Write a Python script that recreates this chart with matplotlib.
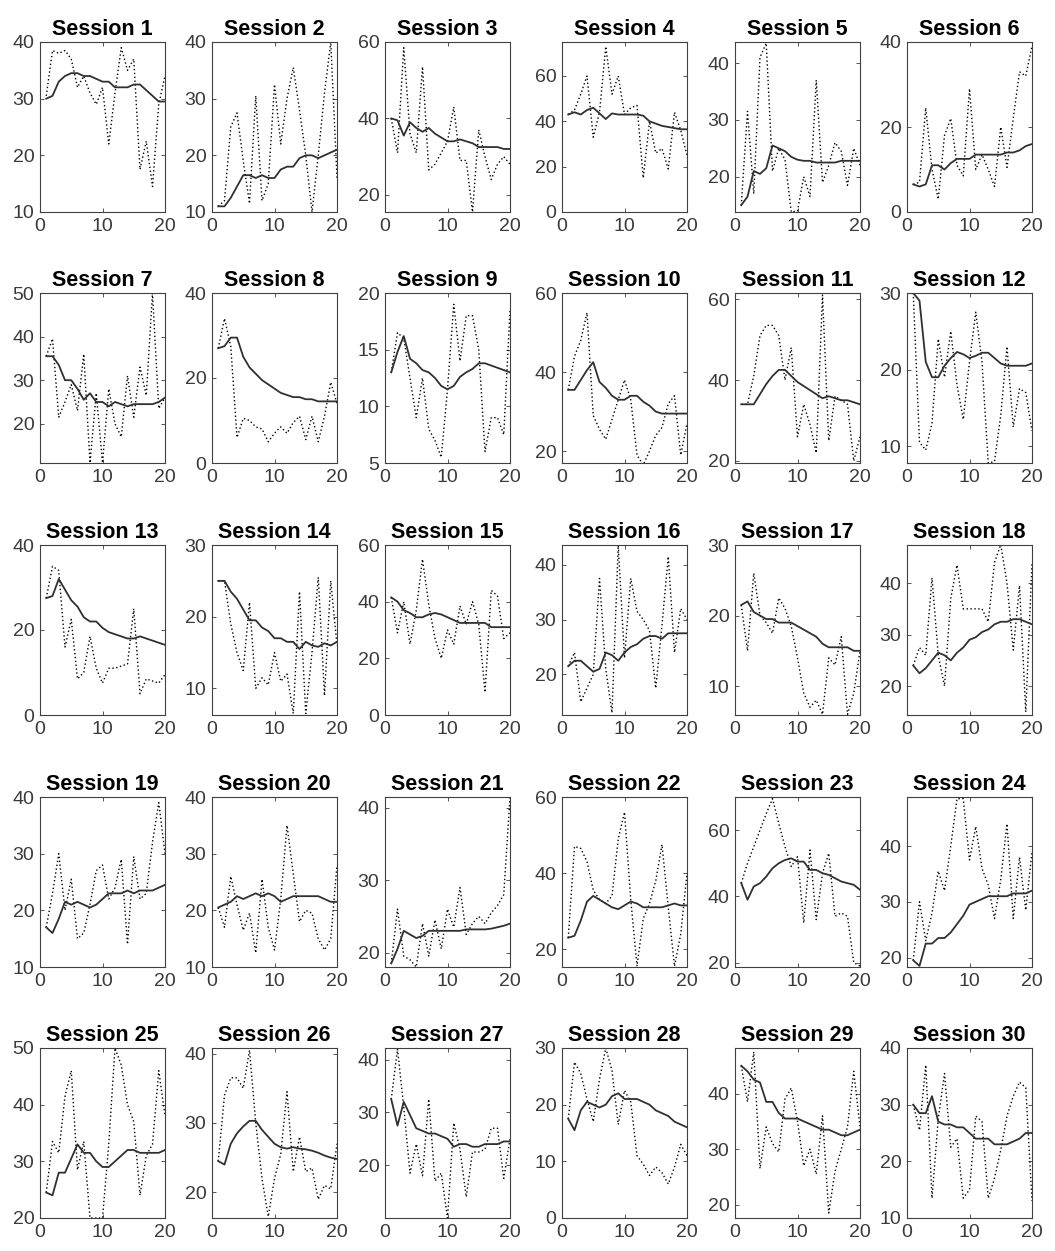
import matplotlib
matplotlib.use("Agg")
import matplotlib.pyplot as plt
import numpy as np

plt.rcParams['font.family'] = ['Liberation Sans', 'DejaVu Sans']

x_vals = list(range(1, 21))
session_titles = [f"Session {i}" for i in range(1, 31)]
x_ticks = [0, 10, 20]

# dotted (raw) and solid (smoothed) series per session
raw_1 = [30.5, 38.5, 38, 38.5, 37, 32, 34, 31, 29, 32, 22, 31, 39, 35, 37, 17.5, 22.5, 14.5, 29, 34]
trend_1 = [30, 30.5, 33, 34, 34.5, 34.5, 34, 34, 33.5, 33, 33, 32, 32, 32, 32.5, 32.5, 31.5, 30.5, 29.5, 29.5]
raw_2 = [11, 12, 25, 27.5, 19, 11.5, 30.5, 12, 15, 32.5, 22, 30, 35.5, 28, 20, 10, 20, 31, 40, 16]
trend_2 = [11, 11, 12.5, 14.5, 16.5, 16.5, 16, 16.5, 16, 16, 17.5, 18, 18, 19.5, 20, 20, 19.5, 20, 20.5, 21]
raw_3 = [40, 31, 58.5, 36, 31, 53.5, 26.5, 28, 31, 34, 43, 29, 29, 15.5, 37, 30, 24, 28, 30, 28]
trend_3 = [40, 39.5, 35.5, 39, 37.5, 36.5, 37.5, 36, 35, 34, 34, 34.5, 34, 33.5, 32.5, 32.5, 32.5, 32.5, 32, 32]
raw_4 = [43, 45, 52, 60, 33, 44, 73, 52, 60, 43, 46, 47, 15, 40, 26, 28, 19, 44, 36, 25]
trend_4 = [43, 44, 43, 45, 46, 43.5, 41, 43.5, 43, 43, 43, 43, 42.5, 40, 39, 38, 37.5, 37, 36.5, 36.5]
raw_5 = [15, 31.5, 17, 41, 43.5, 21, 25, 23, 13.8, 14, 20, 16.5, 37, 19, 22, 26, 24.5, 18.5, 25, 22]
trend_5 = [15, 16.5, 21, 20.5, 21.5, 25.5, 25, 24.5, 23.5, 23, 22.8, 22.8, 22.5, 22.5, 22.5, 22.5, 22.8, 22.8, 22.8, 22.8]
raw_6 = [6.5, 7, 24.5, 10, 3, 18, 22, 11, 8.5, 29, 10, 13.5, 10, 6, 20, 10.5, 22, 33, 32, 39]
trend_6 = [6.5, 6, 6.5, 11, 11, 10, 11.5, 12.5, 12.5, 12.5, 13.5, 13.5, 13.5, 13.5, 13.5, 14, 14, 14.5, 15.5, 16]
raw_7 = [35.5, 39.5, 21.5, 25, 29, 23, 36, 11, 27, 11, 28, 20, 17, 31, 21.5, 33, 26.5, 50, 23.5, 26]
trend_7 = [35.5, 35.5, 33.5, 30, 30, 28, 25.5, 27, 25, 25, 24, 25, 24.5, 24, 24.5, 24.5, 24.5, 24.5, 25, 26]
raw_8 = [27, 34, 27.5, 6, 10.5, 10, 8.5, 8, 5, 7, 8.5, 7, 9.5, 11, 5.5, 11, 5, 11, 19, 14]
trend_8 = [27, 27.5, 29.5, 29.5, 25, 22.5, 21, 19.5, 18.5, 17.5, 16.5, 16, 15.5, 15.5, 15, 15, 14.5, 14.5, 14.5, 14.5]
raw_9 = [13, 16.5, 16, 12.5, 9, 12.5, 8, 7, 5.5, 11.5, 19, 14, 18, 18, 15, 6, 9, 9, 7.5, 18.5]
trend_9 = [13, 14.8, 16.2, 14.2, 13.8, 13.2, 13, 12.5, 11.8, 11.5, 11.8, 12.6, 13, 13.3, 13.8, 13.8, 13.6, 13.4, 13.2, 13]
raw_10 = [35.5, 44, 48, 55, 29, 25.5, 23, 28, 33, 38, 33, 19, 16.5, 20, 24, 26, 32, 34, 19, 27]
trend_10 = [35.5, 35.5, 38, 40.5, 42.5, 37.5, 36, 34, 33, 33, 34, 34, 32.5, 31.5, 30, 29.5, 29.5, 29.5, 29.5, 29.5]
raw_11 = [34, 34, 41, 51, 53.5, 53.5, 51, 40, 48, 26, 34, 29, 22, 61, 25, 36, 35, 34, 20, 26]
trend_11 = [34, 34, 34, 36.5, 39, 41, 42.5, 42.5, 41, 39.5, 38.5, 37.5, 36.5, 35.5, 36, 35.5, 35, 35, 34.5, 34]
raw_12 = [30, 10.5, 9.5, 13, 24, 19, 25, 18, 13.5, 21, 27.5, 21, 7.8, 8, 14, 23, 12.5, 17.5, 17, 12]
trend_12 = [30, 29, 21, 19, 19, 20.5, 21.5, 22.3, 22, 21.5, 21.8, 22.2, 22.2, 21.5, 20.8, 20.5, 20.5, 20.5, 20.5, 20.8]
raw_13 = [27.5, 35, 34, 16, 22.5, 8.5, 10, 18.5, 11, 7.5, 11, 11, 11.5, 12, 25, 5, 8.5, 8, 7.5, 9.5]
trend_13 = [27.5, 28, 32, 29.5, 27, 25.5, 23, 22, 22, 20.5, 19.5, 19, 18.5, 18, 18, 18.5, 18, 17.5, 17, 16.5]
raw_14 = [25, 25, 19, 15, 12.5, 22, 10, 11.5, 10.5, 15, 11, 12, 6.5, 23.5, 6.5, 15, 25.5, 9, 25, 16]
trend_14 = [25, 25, 23.5, 22.5, 21, 19.5, 19.5, 18.5, 18, 17, 17, 16.5, 16.5, 15.5, 16.5, 16, 15.8, 16.3, 16, 16.5]
raw_15 = [41.5, 29, 40, 25, 37, 55, 39, 27, 20, 30, 25, 38.5, 32, 40, 32, 8, 44, 42, 27, 29]
trend_15 = [41.5, 40, 37, 36, 34.5, 34.5, 35.5, 36, 35.5, 34.5, 33.5, 32.5, 32.5, 32.5, 32.5, 32.5, 31, 31, 31, 31]
raw_16 = [21.5, 24, 15, 17.5, 20, 37.5, 21, 13, 43.5, 23, 37.5, 31.5, 30, 28, 17.5, 29, 41.5, 24, 32, 30]
trend_16 = [21.5, 22.5, 22.5, 21.5, 20.5, 21, 24, 23.5, 22.5, 24, 25, 25.5, 26.5, 27, 27, 26.5, 27.5, 27.5, 27.5, 27.5]
raw_17 = [21.5, 15, 26, 20, 19, 17.5, 22.5, 21, 18.5, 14, 9, 7, 8, 6, 14, 13, 17, 6, 9, 15]
trend_17 = [21.5, 22, 20.5, 20, 19.5, 19.5, 19, 19, 19, 18.5, 18, 17.5, 17, 16, 15.5, 15.5, 15.5, 15.5, 15, 15]
raw_18 = [24, 27.5, 26, 41, 26, 20, 37, 43.5, 35, 35, 35, 35, 32.5, 44, 47.5, 40, 27, 39.5, 15, 44]
trend_18 = [24, 22.5, 23.5, 25, 26.5, 26, 25, 26.5, 27.5, 29, 29.5, 30.5, 31, 32, 32.5, 32.5, 33, 33, 32.5, 32]
raw_19 = [17, 23, 30, 20, 25.5, 15, 16, 21, 27, 28, 22, 24, 29, 14, 29.5, 22, 23, 32, 39, 30]
trend_19 = [17, 16, 18.5, 21.5, 21, 21.5, 21, 20.5, 21, 22, 23, 23, 23, 23.5, 23, 23.5, 23.5, 23.5, 24, 24.5]
raw_20 = [20.5, 17, 26, 21, 16.5, 19.5, 12.5, 25.5, 17, 13, 22, 35, 26.5, 18, 20, 19.5, 15, 13, 15, 28]
trend_20 = [20.5, 21, 21.5, 22.5, 22, 22.5, 23, 22.5, 23, 22.5, 21.5, 22, 22.5, 22.5, 22.5, 22.5, 22.5, 22, 21.5, 21.5]
raw_21 = [18.5, 26, 19.5, 19, 18, 24, 19.5, 24.5, 20.5, 26, 23.5, 29, 22.5, 24, 25, 24, 25.5, 26.5, 28, 41.5]
trend_21 = [18.5, 20.5, 23, 22.5, 22, 22.3, 23, 23, 23, 23, 23, 23, 23.2, 23.2, 23.2, 23.2, 23.3, 23.5, 23.7, 24]
raw_22 = [23, 47, 46.5, 43, 35.5, 33, 32, 34, 49, 56, 33, 15.5, 28, 32, 38, 47.5, 31, 15.5, 24, 40]
trend_22 = [23, 23.5, 27.5, 32.5, 34, 33, 32, 31, 30.5, 31.5, 32.5, 32, 31, 31, 31, 31, 31.5, 32, 31.5, 31.5]
raw_23 = [44, 50, 55, 60, 65, 69.5, 62, 55, 49, 52, 32, 54, 33, 47, 53, 34, 35, 34, 20, 19]
trend_23 = [44, 39, 43, 44, 46, 48.5, 50, 51, 51.5, 50.5, 50.5, 48, 48, 47, 46.5, 45.5, 44.5, 44, 43.5, 42]
raw_24 = [19.5, 30, 23, 28, 35.5, 32, 40, 48.5, 48.5, 37.5, 43.5, 36, 33, 27, 34, 44, 27, 38, 28.5, 39]
trend_24 = [19.5, 18.5, 22.5, 22.5, 23.5, 23.5, 24.5, 26, 27.5, 29.5, 30, 30.5, 31, 31, 31, 31, 31.5, 31.5, 31.5, 32]
raw_25 = [24.5, 33.5, 31.5, 41.5, 46, 28.5, 33.5, 20, 20, 20, 33, 50, 47, 40, 37, 24, 31, 33, 46, 38]
trend_25 = [24.5, 24, 28, 28, 30.5, 33, 31.5, 31.5, 30, 29, 29, 30, 31, 32, 32, 31.5, 31.5, 31.5, 31.5, 32]
raw_26 = [24.5, 34, 36.5, 36.5, 35, 40.5, 30, 22, 16.5, 22, 25.5, 34.5, 23, 28, 23, 23.5, 19, 21, 20.5, 27]
trend_26 = [24.5, 24, 27, 28.5, 29.5, 30.3, 30.3, 29, 28, 27, 26.5, 26.3, 26.5, 26.3, 26.2, 26, 25.7, 25.3, 25, 24.8]
raw_27 = [32.5, 42, 31, 18.5, 24, 18, 32.5, 17, 18.5, 10, 28, 23, 14, 22.5, 22.5, 23, 27, 27, 17.5, 25]
trend_27 = [32.5, 27.5, 32, 29.5, 27, 26.5, 26, 26, 25.5, 25, 23.5, 24, 24, 23.5, 23.5, 24, 24, 24, 24.5, 24.5]
raw_28 = [17.5, 27.5, 25.5, 21, 17, 24.5, 30, 26, 16.5, 22.5, 20.5, 11, 9.5, 7.5, 9, 8, 6, 9, 13, 11]
trend_28 = [17.5, 15.5, 19, 20.5, 20, 19.5, 20, 21.5, 22, 21, 21, 21, 20.5, 20, 19, 18.5, 18, 17, 16.5, 16]
raw_29 = [45, 38.5, 47.5, 26.5, 34, 31, 29.5, 39, 41, 35, 27, 30, 25.5, 36, 18.5, 26, 30, 34, 44, 34]
trend_29 = [45, 44, 42.5, 42, 38.5, 38.5, 36.5, 35.5, 35.5, 35.5, 35, 34.5, 34, 33.5, 33.5, 33, 32.5, 32.5, 33, 33.5]
raw_30 = [30, 25.5, 37, 13.5, 27.5, 35.5, 22.5, 24, 13.5, 15, 28, 27, 13.5, 17, 22, 28, 31.5, 34, 33, 13]
trend_30 = [30, 28.5, 28.5, 31.5, 27, 26.5, 26.5, 26, 26, 25, 24, 24, 24, 23, 23, 23, 23.5, 24, 25, 25]

y_limits = [(10, 40), (10, 40), (15.5, 60), (0, 75), (13.8, 43.7), (0, 40),
            (11, 50), (0, 40), (5, 20), (17, 60), (19.5, 61.5), (7.8, 30),
            (0, 40), (6.3, 30), (0, 60), (12.6, 43.6), (5.9, 30), (14.4, 47.4),
            (10, 40), (10, 40), (18, 41.5), (15.3, 60), (18.7, 70), (18.3, 48.8),
            (20, 50), (16.3, 40.8), (10, 42.2), (0, 30), (17.6, 48.2), (10, 40)]
y_ticks = [[10, 20, 30, 40], [10, 20, 30, 40], [20, 40, 60], [0, 20, 40, 60], [20, 30, 40], [0, 20, 40],
           [20, 30, 40, 50], [0, 20, 40], [5, 10, 15, 20], [20, 40, 60], [20, 40, 60], [10, 20, 30],
           [0, 20, 40], [10, 20, 30], [0, 20, 40, 60], [20, 30, 40], [10, 20, 30], [20, 30, 40],
           [10, 20, 30, 40], [10, 20, 30, 40], [20, 30, 40], [20, 40, 60], [20, 40, 60], [20, 30, 40],
           [20, 30, 40, 50], [20, 30, 40], [20, 30, 40], [0, 10, 20, 30], [20, 30, 40], [10, 20, 30, 40]]

g = globals()
raw_series = [g[f"raw_{i}"] for i in range(1, 31)]
trend_series = [g[f"trend_{i}"] for i in range(1, 31)]

W, H = 1055, 1251
fig = plt.figure(figsize=(W / 100, H / 100), dpi=100)

col_left = [40, 212, 385, 562, 735, 907]
row_top = [42, 293, 545, 797, 1048]
ax_w, ax_h = 125, 170

ink = '#3a3a3a'
for idx in range(30):
    r, c = divmod(idx, 6)
    left = col_left[c] / W
    bottom = 1 - (row_top[r] + ax_h) / H
    ax = fig.add_axes([left, bottom, ax_w / W, ax_h / H])
    ax.plot(x_vals, raw_series[idx], linestyle=(0, (1, 1.8)), color='black', linewidth=1.0)
    ax.plot(x_vals, trend_series[idx], linestyle='-', color='#303030', linewidth=1.3)
    ax.set_xlim(0, 20)
    ax.set_ylim(*y_limits[idx])
    ax.set_xticks(x_ticks)
    ax.set_yticks(y_ticks[idx])
    ax.tick_params(direction='in', top=True, right=True, length=3, width=0.6,
                   labelsize=14, colors=ink, pad=4)
    for sp in ax.spines.values():
        sp.set_color('#404040')
        sp.set_linewidth(0.8)
    ax.set_title(session_titles[idx], fontsize=15.5, fontweight='bold', pad=5)

fig.savefig('out.png', dpi=100)
